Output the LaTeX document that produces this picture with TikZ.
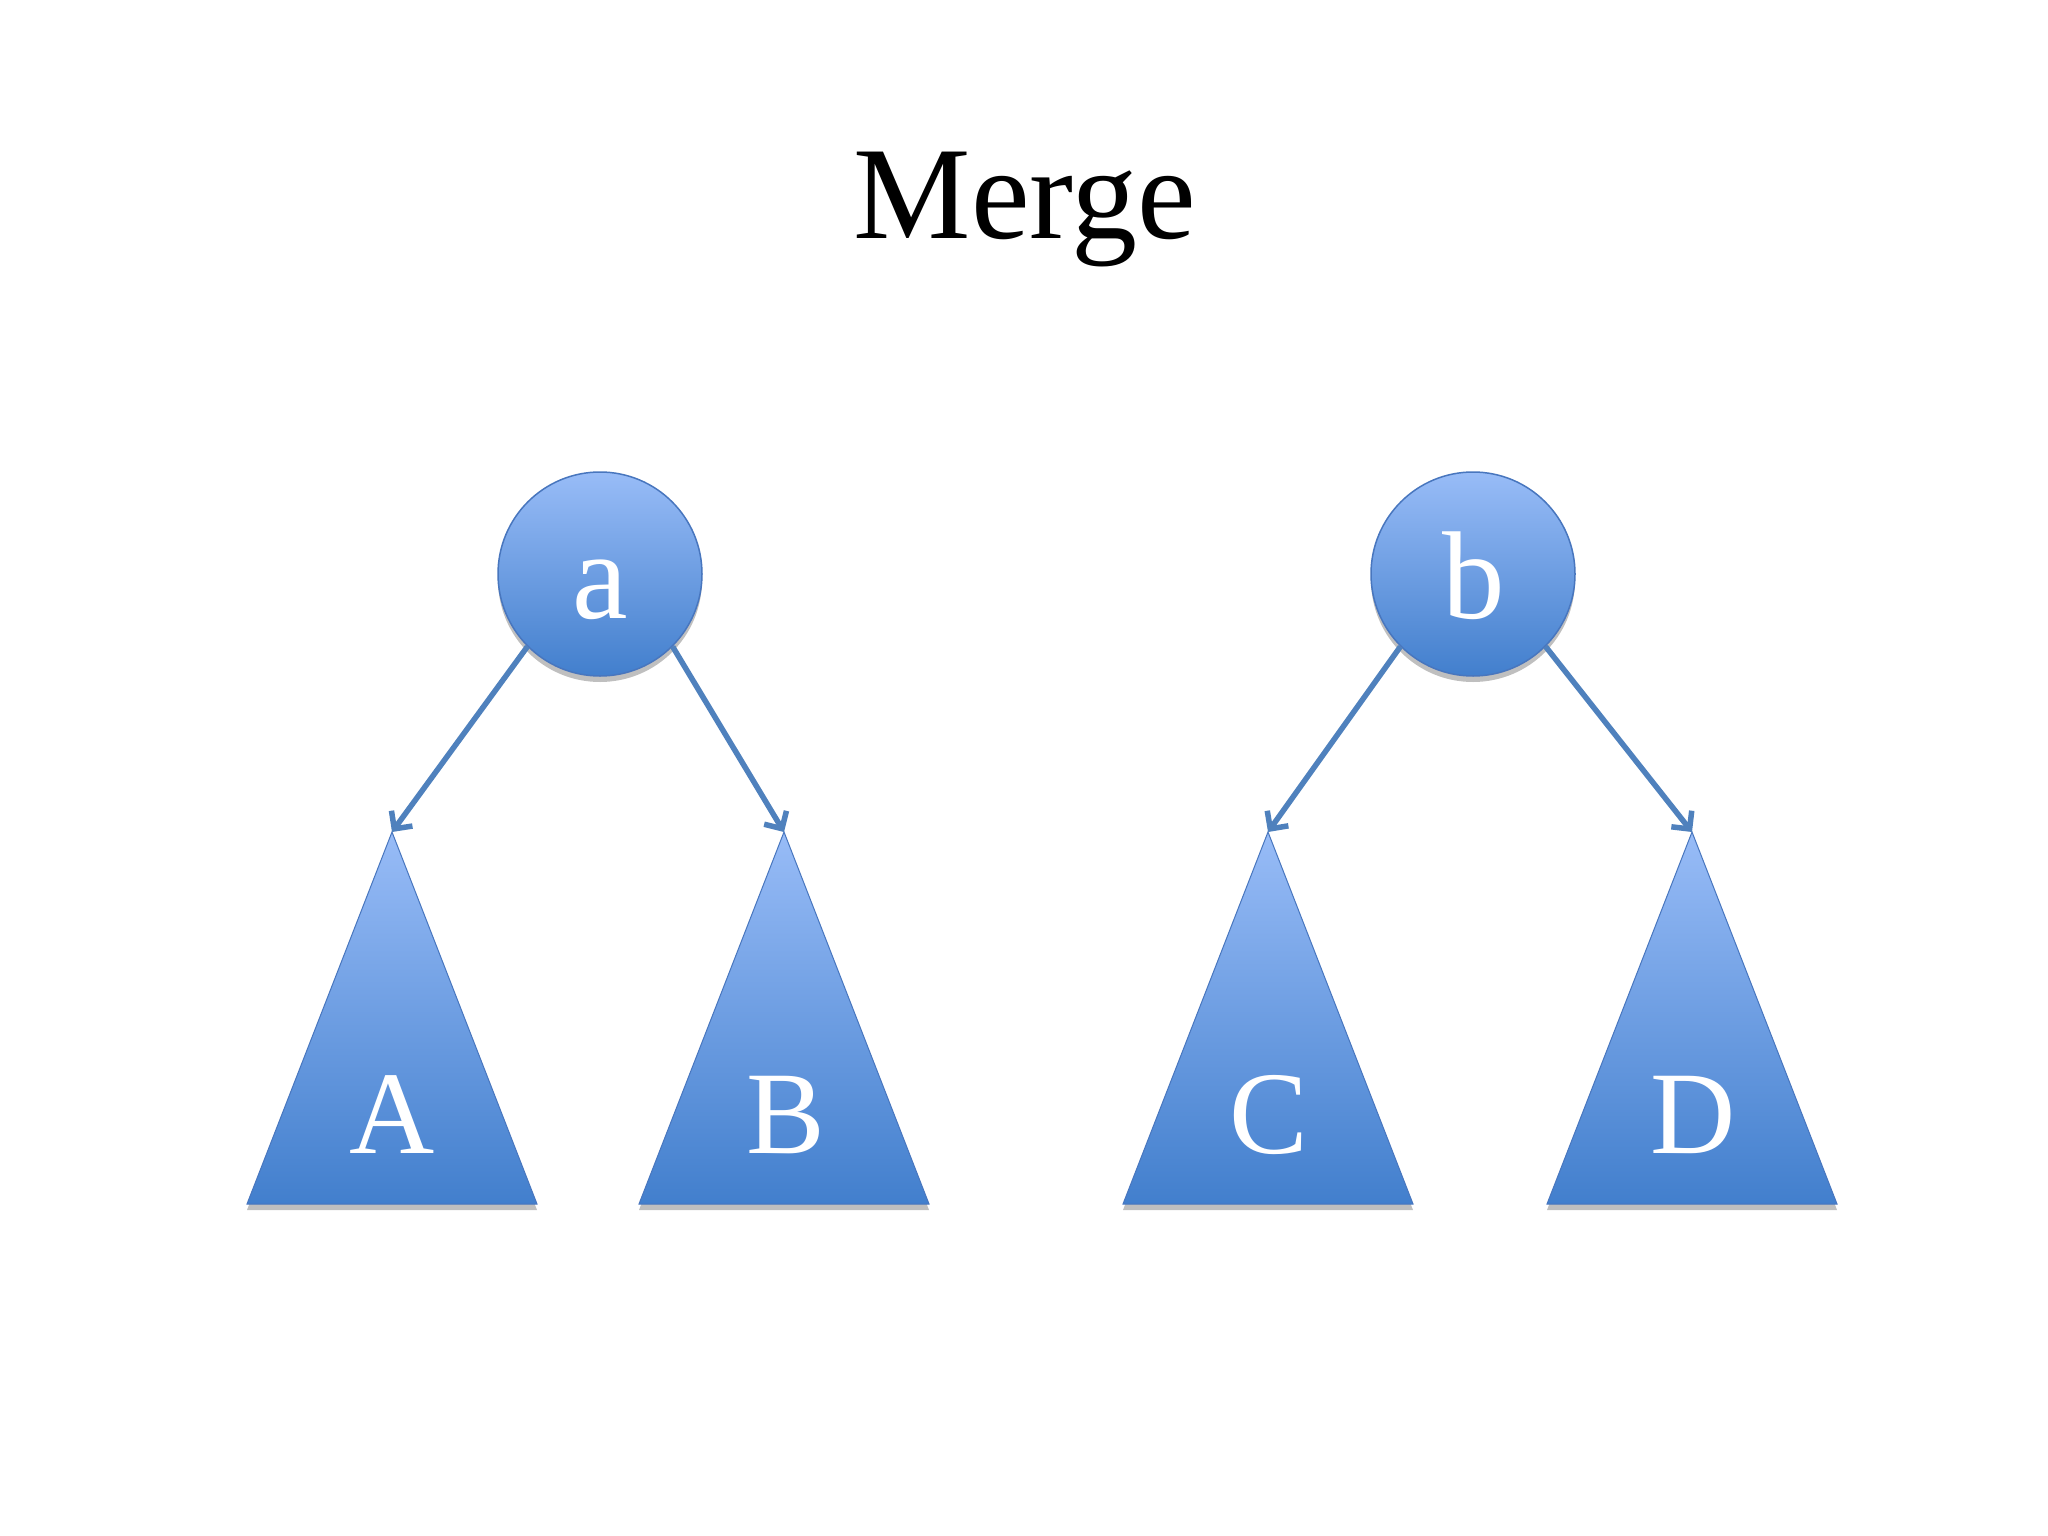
\documentclass[tikz,border=0pt]{standalone}
\usepackage{fontspec}
\setmainfont{Liberation Serif}
\usetikzlibrary{arrows.meta,shadows}
\definecolor{lightb}{RGB}{152,188,247}
\definecolor{darkb}{RGB}{66,127,205}
\definecolor{edgeb}{RGB}{72,118,190}
\definecolor{arrowb}{RGB}{79,129,189}
\tikzset{
  rootnode/.style={circle, minimum size=204pt, inner sep=0pt, draw=edgeb, line width=1.5pt,
     top color=lightb, bottom color=darkb,
     drop shadow={shadow xshift=0pt, shadow yshift=-6pt, opacity=0.25, fill=black}},
  treebox/.style={top color=lightb, bottom color=darkb, draw=edgeb, line width=1pt,
     drop shadow={shadow xshift=0pt, shadow yshift=-6pt, opacity=0.25, fill=black}},
  whitelbl/.style={text=white, anchor=base, inner sep=0pt, font=\fontsize{118}{118}\selectfont},
  edgearrow/.style={draw=arrowb, line width=5.5pt, -{Straight Barb[length=13pt,width=26pt]}}
}
\begin{document}
\begin{tikzpicture}[x=1pt,y=-1pt]
\useasboundingbox[fill=white] (0,0) rectangle (2048,1536);
\node[anchor=base, inner sep=0pt, font=\fontsize{132}{132}\selectfont] (title) at (1025,238) {Merge};
% subtrees
\coordinate (Atop) at (392,832);
\coordinate (Btop) at (784,832);
\coordinate (Ctop) at (1268,832);
\coordinate (Dtop) at (1692,832);
\path[treebox] (Atop) -- (537,1204) -- (247,1204) -- cycle;
\path[treebox] (Btop) -- (929,1204) -- (639,1204) -- cycle;
\path[treebox] (Ctop) -- (1413,1204) -- (1123,1204) -- cycle;
\path[treebox] (Dtop) -- (1837,1204) -- (1547,1204) -- cycle;
\node[whitelbl] (A) at (392,1153) {A};
\node[whitelbl] (B) at (786,1153) {B};
\node[whitelbl] (C) at (1269,1153) {C};
\node[whitelbl] (D) at (1693,1153) {D};
% roots
\node[rootnode] (a) at (600,574) {};
\node[rootnode] (b) at (1473,574) {};
\node[whitelbl, font=\fontsize{125}{125}\selectfont] (la) at (600,618) {a};
\node[whitelbl, font=\fontsize{125}{125}\selectfont] (lb) at (1474,618) {b};
% edges
\draw[edgearrow] (a.-135) -- (Atop);
\draw[edgearrow] (a.-45) -- (Btop);
\draw[edgearrow] (b.-135) -- (Ctop);
\draw[edgearrow] (b.-45) -- (Dtop);
\end{tikzpicture}
\end{document}
